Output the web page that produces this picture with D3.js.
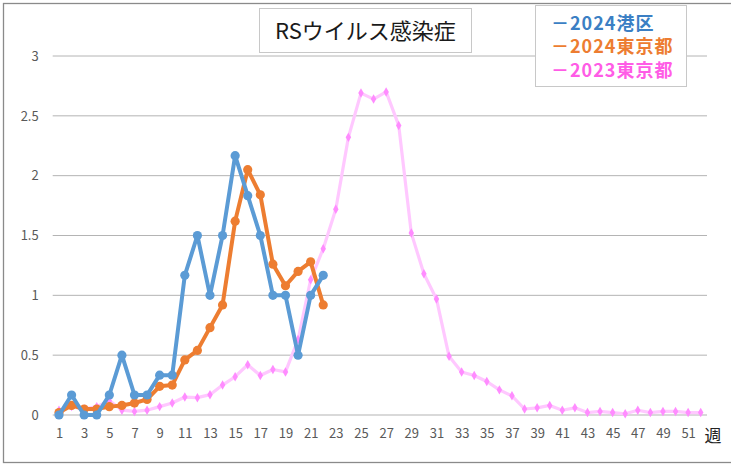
<!DOCTYPE html>
<html>
<head>
<meta charset="utf-8">
<script src="https://cdn.jsdelivr.net/npm/d3@7"></script>
<style>
  body { margin: 0; background: #fff; }
  text { font-family: "Noto Sans CJK JP", "Noto Sans", sans-serif; }
</style>
</head>
<body>
<div id="chart"></div>
<script>
// week numbers and series values
var weeks = d3.range(1, 53);
var minato2024 = [0, 0.167, 0, 0, 0.167, 0.5, 0.167, 0.167, 0.333, 0.333, 1.167,
  1.5, 1.0, 1.5, 2.167, 1.833, 1.5, 1.0, 1.0, 0.5, 1.0, 1.167];
var tokyo2024 = [0.02, 0.08, 0.05, 0.05, 0.07, 0.08, 0.10, 0.13, 0.24, 0.25, 0.46,
  0.54, 0.73, 0.92, 1.62, 2.05, 1.84, 1.26, 1.08, 1.20, 1.28, 0.92];
var tokyo2023 = [0.04, 0.07, 0.05, 0.07, 0.12, 0.04, 0.03, 0.04, 0.07, 0.10, 0.15,
  0.145, 0.17, 0.25, 0.32, 0.42, 0.33, 0.38, 0.36, 0.63, 1.13, 1.39, 1.72, 2.32,
  2.69, 2.64, 2.70, 2.42, 1.52, 1.18, 0.97, 0.49, 0.36, 0.33, 0.28, 0.21, 0.16,
  0.05, 0.06, 0.08, 0.04, 0.06, 0.02, 0.03, 0.02, 0.01, 0.04, 0.02, 0.03, 0.03,
  0.02, 0.02];
var yTicks = [0, 0.5, 1, 1.5, 2, 2.5, 3];
var xTicks = weeks.filter(function(w) { return w % 2 === 1; });
var legendItems = ["－2024港区", "－2024東京都", "－2023東京都"];

var W = 731, H = 464;
var svg = d3.select("#chart").append("svg")
  .attr("width", W)
  .attr("height", H);

// outer frame
svg.append("rect")
  .attr("x", 3.5).attr("y", 3.5)
  .attr("width", 800).attr("height", 459)
  .attr("fill", "#fff")
  .attr("stroke", "#8a8a8a")
  .attr("stroke-width", 1.3);

var x = d3.scalePoint().domain(weeks).range([52.7, 707]).padding(0.5);
var y = d3.scaleLinear().domain([0, 3]).range([415, 56]);

// gridlines
svg.selectAll(".grid")
  .data(yTicks)
  .enter().append("line")
  .attr("x1", 52.7).attr("x2", 707)
  .attr("y1", function(d) { return y(d); })
  .attr("y2", function(d) { return y(d); })
  .attr("stroke", function(d) { return d === 0 ? "#d9d9d9" : "#b4b4b4"; })
  .attr("stroke-width", function(d) { return d === 0 ? 2.2 : 1; });

// axes
var xAxis = svg.append("g")
  .attr("transform", "translate(0,415)")
  .call(d3.axisBottom(x).tickValues(xTicks).tickSize(0).tickPadding(14));
xAxis.select(".domain").remove();
xAxis.selectAll("text").attr("fill", "#595959").style("font-size", "13px");

var yAxis = svg.append("g")
  .attr("transform", "translate(52.7,0)")
  .call(d3.axisLeft(y).tickValues(yTicks).tickSize(0).tickPadding(14)
    .tickFormat(function(d) { return String(d); }));
yAxis.select(".domain").remove();
yAxis.selectAll("text").attr("fill", "#595959").style("font-size", "13px");

svg.append("text")
  .attr("x", 713).attr("y", 436)
  .attr("text-anchor", "middle")
  .attr("dy", "0.35em")
  .style("font-size", "17px")
  .attr("fill", "#222")
  .text("週");

var line = d3.line()
  .x(function(d, i) { return x(weeks[i]); })
  .y(function(d) { return y(d); });

// 2023 Tokyo (light pink, small diamonds)
svg.append("path")
  .datum(tokyo2023)
  .attr("d", line)
  .attr("fill", "none")
  .attr("stroke", "#ffc8ff")
  .attr("stroke-width", 3.2)
  .attr("stroke-linejoin", "round");
svg.selectAll(".p23")
  .data(tokyo2023)
  .enter().append("path")
  .attr("d", d3.symbol().type(d3.symbolDiamond).size(26))
  .attr("transform", function(d, i) { return "translate(" + x(weeks[i]) + "," + y(d) + ")"; })
  .attr("fill", "#ff8cff");

// 2024 Tokyo (orange)
svg.append("path")
  .datum(tokyo2024)
  .attr("d", line)
  .attr("fill", "none")
  .attr("stroke", "#ed7d31")
  .attr("stroke-width", 4)
  .attr("stroke-linejoin", "round");
svg.selectAll(".p24t")
  .data(tokyo2024)
  .enter().append("circle")
  .attr("cx", function(d, i) { return x(weeks[i]); })
  .attr("cy", function(d) { return y(d); })
  .attr("r", 4.6)
  .attr("fill", "#ed7d31");

// 2024 Minato (blue)
svg.append("path")
  .datum(minato2024)
  .attr("d", line)
  .attr("fill", "none")
  .attr("stroke", "#5b9bd5")
  .attr("stroke-width", 4)
  .attr("stroke-linejoin", "round");
svg.selectAll(".p24m")
  .data(minato2024)
  .enter().append("circle")
  .attr("cx", function(d, i) { return x(weeks[i]); })
  .attr("cy", function(d) { return y(d); })
  .attr("r", 4.6)
  .attr("fill", "#5b9bd5");

// title box
svg.append("rect")
  .attr("x", 259.5).attr("y", 8.5)
  .attr("width", 212).attr("height", 44)
  .attr("fill", "#fff")
  .attr("stroke", "#c8c8c8");
svg.append("text")
  .attr("x", 365.5).attr("y", 31)
  .attr("text-anchor", "middle")
  .attr("dy", "0.35em")
  .style("font-size", "22px")
  .attr("fill", "#1a1a1a")
  .text("RSウイルス感染症");

// legend
var legendColor = d3.scaleOrdinal()
  .domain(legendItems)
  .range(["#3b7fc4", "#ed7d31", "#ff5ce6"]);
svg.append("rect")
  .attr("x", 535.5).attr("y", 5.5)
  .attr("width", 151).attr("height", 81)
  .attr("fill", "#fff")
  .attr("stroke", "#c8c8c8");
svg.selectAll(".legend")
  .data(legendItems)
  .enter().append("text")
  .attr("x", 551)
  .attr("y", function(d, i) { return 23.5 + i * 23.5; })
  .attr("dy", "0.35em")
  .style("font-size", "18px")
  .style("font-weight", "bold")
  .style("letter-spacing", "1px")
  .attr("fill", function(d) { return legendColor(d); })
  .text(function(d) { return d; });
</script>
</body>
</html>
